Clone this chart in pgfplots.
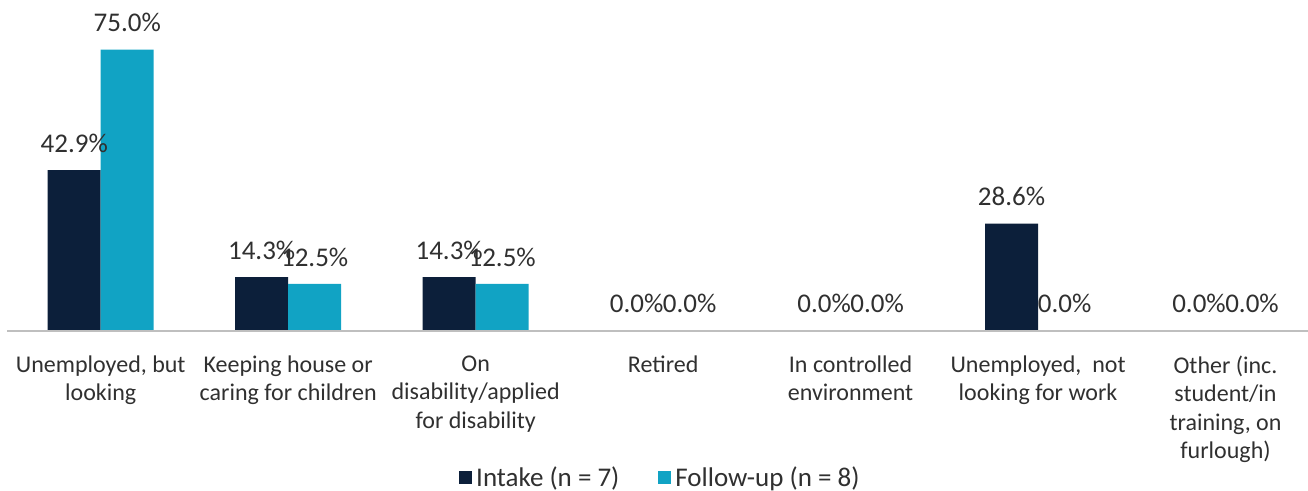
\documentclass[border=0pt]{standalone}
\usepackage{pgfplots}
\pgfplotsset{compat=1.18}
\usepackage{fontspec}
\setmainfont{Carlito}
\definecolor{intake}{HTML}{0C1F3A}
\definecolor{follow}{HTML}{11A3C4}
\definecolor{txt}{HTML}{303030}
\definecolor{axgray}{HTML}{BFBFBF}
\begin{document}
\begin{tikzpicture}
\begin{axis}[
  name=ax,
  scale only axis,
  width=650.5pt, height=149.9pt,
  xmin=-0.5, xmax=6.44,
  ymin=0, ymax=80,
  ybar=0pt,
  bar width=26.5pt,
  axis on top,
  axis y line=none,
  axis x line*=bottom,
  x axis line style={axgray, line width=1pt, -},
  xtick={0,1,2,3,4,5,6},
  major tick length=0pt,
  xticklabels={{Unemployed, but\\looking},{Keeping house or\\caring for children},{On\\disability/applied\\for disability},{Retired},{In controlled\\environment},{Unemployed,\ \ not\\looking for work},{Other (inc.\\student/in\\training, on\\furlough)}},
  xticklabel style={align=center, font=\fontsize{12}{14.2}\selectfont, text=txt, yshift=-9pt},
  /pgf/number format/assume math mode=true,
  nodes near coords={\pgfmathprintnumber[fixed,fixed zerofill,precision=1]{\pgfplotspointmeta}\%},
  every node near coord/.append style={anchor=center, yshift=13.5pt, font=\fontsize{13.5}{14.9}\selectfont, text=txt},
  clip=false,
  legend columns=2,
  legend style={at={(0.503,-0.49)}, anchor=center, draw=none, font=\fontsize{13.5}{14.9}\selectfont, text=txt,
    /tikz/every even column/.append style={column sep=17.5pt}},
  legend image code/.code={\draw[#1, draw=none] (0pt,-3.25pt) rectangle (6.5pt,3.25pt);},
]
\addplot[fill=intake, draw=none] coordinates {(0,42.9) (1,14.3) (2,14.3) (3,0) (4,0) (5,28.6) (6,0)};
\addplot[fill=follow, draw=none] coordinates {(0,75.0) (1,12.5) (2,12.5) (3,0) (4,0) (5,0) (6,0)};
\legend{Intake (n = 7), Follow-up (n = 8)}
\end{axis}
\pgfresetboundingbox
\path ([xshift=-3.5pt,yshift=-80pt]ax.south west) rectangle ([yshift=15.5pt]ax.north east);
\end{tikzpicture}
\end{document}
